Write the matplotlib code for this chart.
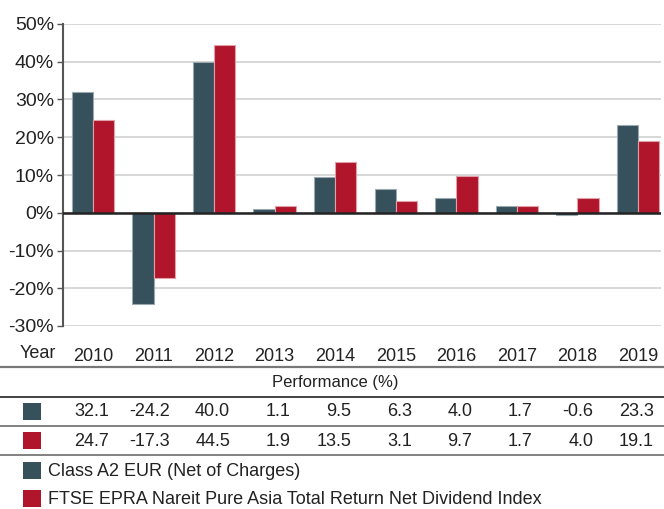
import numpy as np
import matplotlib.pyplot as plt
import matplotlib.transforms as mtransforms
from matplotlib.lines import Line2D
from matplotlib.patches import Rectangle

years = ['2010', '2011', '2012', '2013', '2014', '2015', '2016', '2017', '2018', '2019']
fund = [32.1, -24.2, 40.0, 1.1, 9.5, 6.3, 4.0, 1.7, -0.6, 23.3]
index = [24.7, -17.3, 44.5, 1.9, 13.5, 3.1, 9.7, 1.7, 4.0, 19.1]
fund_name = 'Class A2 EUR (Net of Charges)'
index_name = 'FTSE EPRA Nareit Pure Asia Total Return Net Dividend Index'
yticks = [-30, -20, -10, 0, 10, 20, 30, 40, 50]

DARK = '#36505c'
RED = '#b0152b'
W, H = 664, 509

plt.rcParams['font.family'] = ['Liberation Sans', 'DejaVu Sans']
fig = plt.figure(figsize=(W / 100, H / 100), dpi=100)

def fx(px):
    return px / W

def fy(py):
    return 1 - py / H

ax = fig.add_axes([fx(63), fy(326), fx(661) - fx(63), fy(24) - fy(326)])
x = np.arange(len(years))
bw = 0.35
ax.bar(x - bw / 2, fund, bw, color=DARK, edgecolor='#9aa8b0', linewidth=0.8, zorder=3)
ax.bar(x + bw / 2, index, bw, color=RED, edgecolor='#e0a0a8', linewidth=0.8, zorder=3)

ax.set_xlim(-0.495, 9.38)
ax.set_ylim(-30, 50)
ax.set_yticks(yticks)
ax.set_yticklabels([f'{t}%' for t in yticks], fontsize=14, color='#222222')
ax.yaxis.grid(True, color='#d4d4d4', linewidth=1.3, zorder=0)
ax.axhline(0, color='#222222', linewidth=1.8, zorder=4)
ax.set_xticks(x)
ax.set_xticklabels(years, fontsize=13, color='#222222')
ax.tick_params(axis='x', length=0, pad=16)
ax.tick_params(axis='y', length=4, width=1, color='#555555', pad=2.5)
for s in ['top', 'right', 'bottom']:
    ax.spines[s].set_visible(False)
ax.spines['left'].set_color('#555555')
ax.spines['left'].set_linewidth(1.5)

fig.text(fx(20), fy(353), 'Year', fontsize=13, va='center', ha='left', color='#222222')

# table rules
for py, c, lw in [(367, '#777777', 1.6), (397, '#333333', 1.3), (426, '#777777', 1.3), (455, '#777777', 1.3)]:
    fig.add_artist(Line2D([0, 1], [fy(py), fy(py)], color=c, linewidth=lw, transform=fig.transFigure))

fig.text(fx(335), fy(382), 'Performance (%)', fontsize=12, ha='center', va='center', color='#222222')

trans = mtransforms.blended_transform_factory(ax.transData, fig.transFigure)
off = mtransforms.ScaledTranslation(16 / 100, 0, fig.dpi_scale_trans)
for vals, py in [(fund, 412), (index, 441)]:
    for xi, v in zip(x, vals):
        fig.text(xi, fy(py), f'{v:.1f}', transform=trans + off, fontsize=13,
                 ha='right', va='center', color='#222222')

for py, c in [(403, DARK), (432, RED), (462, DARK), (490, RED)]:
    fig.add_artist(Rectangle((fx(23), fy(py + 17)), fx(18), fy(0) - fy(17),
                             facecolor=c, edgecolor='none', transform=fig.transFigure))

fig.text(fx(48), fy(471), fund_name, fontsize=13, va='center', ha='left', color='#222222')
fig.text(fx(48), fy(499), index_name, fontsize=13, va='center', ha='left', color='#222222')

fig.savefig('out.png', dpi=100)
